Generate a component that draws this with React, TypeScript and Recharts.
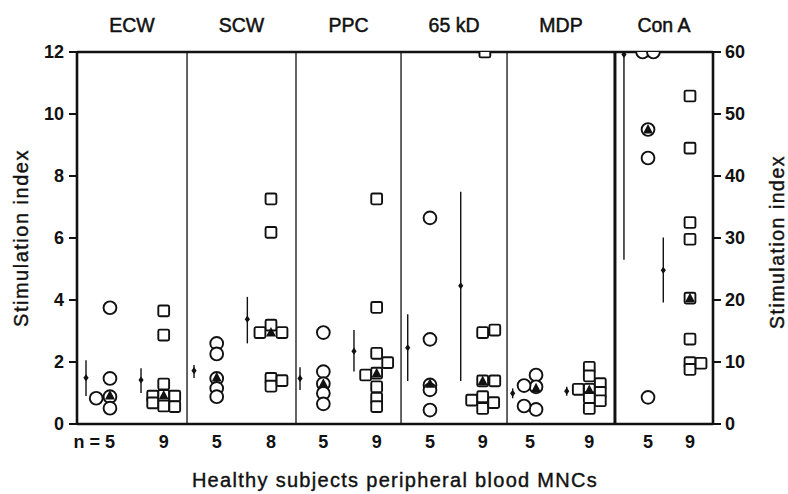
import { ScatterChart, Scatter, XAxis, YAxis, ReferenceLine, ErrorBar } from 'recharts'

const FONT = '"Liberation Sans", Arial, Helvetica, sans-serif'
const INK = '#111'

const panels = ['ECW', 'SCW', 'PPC', '65 kD', 'MDP', 'Con A']
const panelEdges = [0, 1.038, 2.066, 3.057, 4.057, 5.075, 6]
const circleN = [5, 5, 5, 5, 5, 5]
const squareN = [9, 8, 9, 9, 9, 9]

// slot of each group on the x axis (panel i spans roughly i..i+1)
const meanCircleX = [0.085, 1.104, 2.104, 3.12, 4.11, 5.16]
const circleX = [0.311, 1.318, 2.324, 3.33, 4.274, 5.387]
const meanSquareX = [0.604, 1.607, 2.613, 3.62, 4.62, 5.531]
const squareX = [0.818, 1.83, 2.827, 3.827, 4.833, 5.783]

// individual subjects (Con A read on the right-hand axis, 0-60)
const circleVals = [
  [3.75, 1.47, 0.88, 0.51, 0.83],
  [2.6, 2.26, 1.47, 1.15, 0.88],
  [2.95, 1.69, 1.3, 0.99, 0.65],
  [6.65, 2.73, 1.26, 1.1, 0.45],
  [1.58, 1.2, 0.47, 1.24, 0.58],
  [60, 60, 47.5, 42.9, 4.3],
]
const circleCols = [
  [0, 0, 0, 0, -1.15],
  [0, 0, 0, 0, 0],
  [0, 0, 0, 0, 0],
  [0, 0, 0, 0, 0],
  [0.5, 0.5, 0.5, -0.5, -0.5],
  [-0.45, 0.45, 0, 0, 0],
]
const squareVals = [
  [3.65, 2.87, 1.29, 0.92, 0.58, 0.9, 0.68, 0.9, 0.56],
  [7.26, 6.18, 3.19, 2.95, 2.95, 1.47, 1.22, 1.4],
  [7.26, 3.76, 2.28, 1.64, 1.2, 0.83, 0.56, 1.58, 1.98],
  [12, 2.95, 3.03, 1.39, 1.39, 0.88, 0.5, 0.77, 0.69],
  [1.83, 1.55, 1.12, 0.85, 0.5, 1.12, 1.3, 1.02, 0.75],
  [52.9, 44.5, 32.5, 29.8, 20.3, 13.7, 9.9, 8.8, 9.8],
]
const squareCols = [
  [0, 0, 0, 0, 0, -1, -1, 1, 1],
  [0, 0, 0, -1, 1, 0, 0, 1],
  [0, 0, 0, 0, 0, 0, 0, -1, 1],
  [0.2, 0, 1.1, 0, 1.1, 0, 0, -1, 1],
  [0, 0, 0, 0, 0, -1, 1, 1, 1],
  [0, 0, 0, 0, 0, 0, 0, 0, 1],
]

// medians (filled triangles)
const circleMedian = [0.92, 1.5, 1.3, 1.3, 1.15, 47.5]
const circleMedianCol = [0, 0, 0, 0, 0.5, 0]
const squareMedian = [0.92, 2.95, 1.64, 1.39, 1.1, 20.3]

// mean with error range
const circleMean = [1.49, 1.72, 1.47, 2.46, 0.99, 59.6]
const circleLow = [0.9, 1.48, 1.1, 1.39, 0.83, 26.5]
const circleHigh = [2.06, 1.9, 1.83, 3.54, 1.15, 60]
const squareMean = [1.42, 3.38, 2.35, 4.46, 1.06, 24.8]
const squareLow = [1.0, 2.6, 1.69, 1.39, 0.91, 19.6]
const squareHigh = [1.8, 4.1, 3.03, 7.49, 1.2, 30.1]

const leftTicks = [0, 2, 4, 6, 8, 10, 12]
const rightTicks = [0, 10, 20, 30, 40, 50, 60]

const CIRCLE_STEP = 0.113
const SQUARE_STEP = 0.104

type Pt = { x: number; y: number; err?: number[] }

const pointsOf = (
  xs: number[],
  vals: number[][],
  cols: number[][],
  step: number,
  right: boolean
): Pt[] => {
  const out: Pt[] = []
  vals.forEach((row, i) => {
    if ((i === 5) !== right) return
    row.forEach((v, j) => out.push({ x: xs[i] + cols[i][j] * step, y: v }))
  })
  return out
}

const mediansOf = (xs: number[], vals: number[], cols: number[] | null, step: number, right: boolean): Pt[] =>
  vals
    .map((v, i) => ({ x: xs[i] + (cols ? cols[i] * step : 0), y: v, i }))
    .filter((p) => (p.i === 5) === right)
    .map(({ x, y }) => ({ x, y }))

const meansOf = (xs: number[], m: number[], lo: number[], hi: number[], right: boolean): Pt[] =>
  m
    .map((v, i) => ({ x: xs[i], y: v, err: [v - lo[i], hi[i] - v], i }))
    .filter((p) => (p.i === 5) === right)
    .map(({ x, y, err }) => ({ x, y, err }))

const CircleShape = (p: any) => (
  <circle cx={p.cx} cy={p.cy} r={6.4} fill="#fff" stroke={INK} strokeWidth={1.9} />
)
const SquareShape = (p: any) => (
  <rect x={p.cx - 5.4} y={p.cy - 5.4} width={10.8} height={10.8} rx={1.5} fill="#fff" stroke={INK} strokeWidth={1.9} />
)
const TriangleShape = (p: any) => (
  <polygon
    points={`${p.cx},${p.cy - 5.5} ${p.cx - 5},${p.cy + 4} ${p.cx + 5},${p.cy + 4}`}
    fill={INK}
  />
)
const DiamondShape = (p: any) => (
  <polygon
    points={`${p.cx},${p.cy - 3.6} ${p.cx + 2.6},${p.cy} ${p.cx},${p.cy + 3.6} ${p.cx - 2.6},${p.cy}`}
    fill={INK}
  />
)

const nTicks = [...circleX, ...squareX].sort((a, b) => a - b)
const nLabels = circleX.flatMap((_, i) => [circleN[i], squareN[i]])

const NTick = (p: any) => {
  const idx = nTicks.indexOf(p.payload.value)
  const first = idx === 0
  return (
    <text
      x={first ? p.x + 5 : p.x}
      y={p.y + 16}
      textAnchor={first ? 'end' : 'middle'}
      fontFamily={FONT}
      fontSize={18}
      fontWeight={700}
      fill={INK}
    >
      {first ? `n = ${nLabels[idx]}` : nLabels[idx]}
    </text>
  )
}

const tickStyle = { fill: INK, fontSize: 18, fontWeight: 700, fontFamily: FONT }

export default function App() {
  const series = [false, true].map((right) => {
    const axis = right ? 'r' : 'l'
    return (
      <g key={axis}>
        <Scatter
          yAxisId={axis}
          data={meansOf(meanCircleX, circleMean, circleLow, circleHigh, right)}
          shape={DiamondShape}
          isAnimationActive={false}
        >
          <ErrorBar dataKey="err" direction="y" width={0} stroke={INK} strokeWidth={1.4} />
        </Scatter>
        <Scatter
          yAxisId={axis}
          data={meansOf(meanSquareX, squareMean, squareLow, squareHigh, right)}
          shape={DiamondShape}
          isAnimationActive={false}
        >
          <ErrorBar dataKey="err" direction="y" width={0} stroke={INK} strokeWidth={1.4} />
        </Scatter>
      </g>
    )
  })

  const panelCenters = panels.map((_, i) => (panelEdges[i] + panelEdges[i + 1]) / 2)

  return (
    <div style={{ position: 'relative', width: 788, height: 494, background: '#fff' }}>
      <style>{'body{margin:0;background:#fff}'}</style>
      <ScatterChart width={788} height={494} margin={{ top: 52, right: 0, bottom: 0, left: 0 }}>
        <XAxis
          type="number"
          dataKey="x"
          domain={[0, 6]}
          ticks={nTicks}
          interval={0}
          tick={NTick}
          tickLine={false}
          axisLine={{ stroke: INK, strokeWidth: 2.6 }}
          height={70}
          allowDataOverflow
        />
        <YAxis
          yAxisId="l"
          type="number"
          dataKey="y"
          domain={[0, 12]}
          ticks={leftTicks}
          interval={0}
          width={77}
          tickSize={8}
          tickMargin={5}
          tick={tickStyle}
          tickLine={{ stroke: INK, strokeWidth: 2 }}
          axisLine={{ stroke: INK, strokeWidth: 2.6 }}
          allowDataOverflow
        />
        <YAxis
          yAxisId="r"
          orientation="right"
          type="number"
          dataKey="y"
          domain={[0, 60]}
          ticks={rightTicks}
          interval={0}
          width={75}
          tickSize={8}
          tickMargin={4}
          tick={{ ...tickStyle, textAnchor: 'start' }}
          tickLine={{ stroke: INK, strokeWidth: 2 }}
          axisLine={{ stroke: INK, strokeWidth: 2.6 }}
          allowDataOverflow
        />
        <ReferenceLine yAxisId="l" y={12} stroke={INK} strokeWidth={2.6} />
        {panelEdges.slice(1, -1).map((e, i) => (
          <ReferenceLine
            key={`edge-${i}`}
            yAxisId="l"
            x={e}
            stroke={INK}
            strokeWidth={i === 4 ? 3 : 1.3}
          />
        ))}
        {panels.map((name, i) => (
          <ReferenceLine
            key={`title-${i}`}
            yAxisId="l"
            x={panelCenters[i]}
            stroke="none"
            label={{
              value: name,
              position: 'top',
              offset: 20,
              fill: INK,
              stroke: INK,
              strokeWidth: 0.5,
              fontSize: 19.5,
              fontFamily: FONT,
            }}
          />
        ))}
        {series}
        <Scatter yAxisId="l" data={pointsOf(circleX, circleVals, circleCols, CIRCLE_STEP, false)} shape={CircleShape} isAnimationActive={false} />
        <Scatter yAxisId="r" data={pointsOf(circleX, circleVals, circleCols, CIRCLE_STEP, true)} shape={CircleShape} isAnimationActive={false} />
        <Scatter yAxisId="l" data={pointsOf(squareX, squareVals, squareCols, SQUARE_STEP, false)} shape={SquareShape} isAnimationActive={false} />
        <Scatter yAxisId="r" data={pointsOf(squareX, squareVals, squareCols, SQUARE_STEP, true)} shape={SquareShape} isAnimationActive={false} />
        <Scatter yAxisId="l" data={mediansOf(circleX, circleMedian, circleMedianCol, CIRCLE_STEP, false)} shape={TriangleShape} isAnimationActive={false} />
        <Scatter yAxisId="r" data={mediansOf(circleX, circleMedian, circleMedianCol, CIRCLE_STEP, true)} shape={TriangleShape} isAnimationActive={false} />
        <Scatter yAxisId="l" data={mediansOf(squareX, squareMedian, null, SQUARE_STEP, false)} shape={TriangleShape} isAnimationActive={false} />
        <Scatter yAxisId="r" data={mediansOf(squareX, squareMedian, null, SQUARE_STEP, true)} shape={TriangleShape} isAnimationActive={false} />
      </ScatterChart>
      <svg
        width={788}
        height={494}
        style={{ position: 'absolute', left: 0, top: 0, pointerEvents: 'none' }}
        fontFamily={FONT}
        fill={INK}
        stroke={INK}
        strokeWidth={0.4}
      >
        <text x={395} y={487} textAnchor="middle" fontSize={20} letterSpacing={1.3}>
          Healthy subjects peripheral blood MNCs
        </text>
        <text transform="translate(28,238) rotate(-90)" textAnchor="middle" fontSize={20} letterSpacing={1.5}>
          Stimulation index
        </text>
        <text transform="translate(784,242) rotate(-90)" textAnchor="middle" fontSize={19.5} letterSpacing={1.5}>
          Stimulation index
        </text>
      </svg>
    </div>
  )
}
